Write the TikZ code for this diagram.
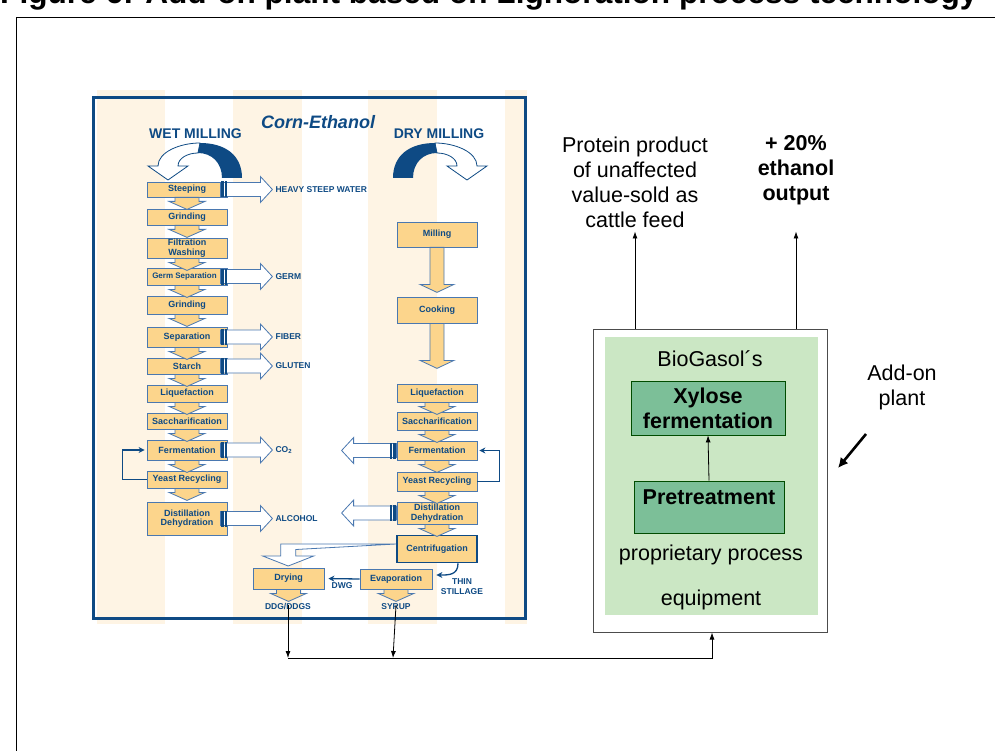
\documentclass[tikz,border=0pt]{standalone}
\usepackage{fontspec}
\setmainfont{Liberation Sans}
\usetikzlibrary{arrows.meta}

\definecolor{navy}{HTML}{0E4A84}
\definecolor{boxorange}{HTML}{FCD58C}
\definecolor{boxedge}{HTML}{4A78B0}
\definecolor{stripe}{HTML}{FEF4E4}
\definecolor{plantgreen}{HTML}{CBE7C4}
\definecolor{stepgreen}{HTML}{7CBF98}

\tikzset{
  stage/.style={draw=boxedge, fill=boxorange, line width=0.8pt, minimum width=80, minimum height=16,
    inner sep=1pt, align=center, text=navy, font=\fontsize{9}{9.5}\selectfont\bfseries},
  outlabel/.style={anchor=west, text=navy, inner sep=1pt, align=center, font=\fontsize{8.5}{9.3}\selectfont\bfseries},
  flow/.style={draw=boxedge, line width=0.8pt},
  feedback/.style={navy, line width=1.3pt, -{Stealth[length=6pt,width=6pt]}},
  plainarrow/.style={black, line width=0.8pt, -{Latex[length=7pt,width=5pt]}},
  bigtext/.style={inner sep=0pt, align=center, font=\fontsize{21.5}{25}\selectfont},
  stepbox/.style={draw=black!70!green, fill=stepgreen, line width=0.8pt, inner sep=0pt,
    minimum width=154, minimum height=54, align=center, font=\fontsize{21.5}{25}\selectfont\bfseries},
  pics/chevron/.style={code={
    \draw[flow, fill=boxorange] (-12,0) -- (12,0) -- (12,4) -- (18,4) -- (0,12) -- (-18,4) -- (-12,4) -- cycle;}},
  pics/stem/.style={code={
    \draw[flow, fill=boxorange] (-7,0) -- (7,0) -- (7,#1-8) -- (17,#1-8) -- (0,#1) -- (-17,#1-8) -- (-7,#1-8) -- cycle;}},
  pics/outflow/.style={code={
    \draw[flow, fill=white] (0,-7) -- (#1-12,-7) -- (#1-12,-13) -- (#1,0) -- (#1-12,13) -- (#1-12,7) -- (0,7) -- cycle;
    \fill[navy] (1,-8) rectangle (3.5,8);
    \fill[navy] (5,-8) rectangle (7,8);}},
  pics/uturn/.style={code={
    \draw[navy, line width=0.8pt, fill=white] (0,0) .. controls (-20,0) and (-42,9) .. (-42,23) -- (-52,23)
      -- (-32,37) -- (-12,23) -- (-22,23) .. controls (-22,15) and (-12,10) .. (-2,10) -- cycle;
    \fill[navy] (22,35) -- (42,35) .. controls (42,12) and (25,0) .. (0,0) -- (-2,10)
      .. controls (12,10) and (22,20) .. (22,35) -- cycle;}}
}

\begin{document}
\begin{tikzpicture}[x=1pt,y=-1pt]
\useasboundingbox (0,0) rectangle (995,751);

% title, cut by the page edge
\node[anchor=base west, inner sep=0pt, font=\fontsize{31.6}{36}\selectfont\bfseries] (title) at (0,4)
  {Figure 6: Add-on plant based on Lignoration process technology};
\draw[line width=1pt] (16,760) -- (16,18) -- (1000,18);

% corn-ethanol panel
\foreach \a/\b in {97/165,233/302,368/437,505/527}
  \fill[stripe] (\a,90) rectangle (\b,624);
\draw[navy, line width=3pt] (93,98) rectangle (525,618);
\node[text=navy, font=\fontsize{18}{20}\selectfont\bfseries\itshape] (corn) at (318,122) {Corn-Ethanol};
\node[text=navy, font=\fontsize{14}{16}\selectfont\bfseries] (wet) at (195.5,134) {WET MILLING};
\node[text=navy, font=\fontsize{14}{16}\selectfont\bfseries] (dry) at (439,134) {DRY MILLING};
\pic at (200,143) {uturn};
\pic[xscale=-1] at (435,143) {uturn};

% wet milling
\foreach \n/\y/\h/\t in {steep/189.5/15/Steeping, grinda/217/16/Grinding, filt/248/20/{Filtration\\Washing},
    germ/276.5/17/{\fontsize{8}{9}\selectfont Germ Separation\hspace*{5pt}}, grindb/305/18/Grinding,
    sep/337/20/Separation, starch/366/16/Starch,
    wliq/393.5/17/Liquefaction, wsac/421/16/Saccharification, wferm/450/20/Fermentation,
    wyeast/479.5/17/{Yeast Recycling}, wdist/518.5/33/{Distillation\\Dehydration}}
  \node[stage, minimum height=\h] (\n) at (187,\y) {\t};
\foreach \n in {steep,grinda,filt,germ,grindb,sep,starch,wliq,wsac,wferm,wyeast}
  \pic at (\n.south) {chevron};
\foreach \n/\t in {steep/HEAVY STEEP WATER, germ/GERM, sep/FIBER, starch/GLUTEN,
    wferm/CO\textsubscript{2}, wdist/ALCOHOL}{
  \pic at ([xshift=-7pt]\n.east) {outflow=52};
  \node[outlabel] at ([xshift=47pt]\n.east) {\t};
}
\draw[feedback] (wyeast.west) -- ++(-24,0) |- ([xshift=-2pt]wferm.west);

% dry milling
\foreach \n/\y/\h/\t in {mill/234.5/25/Milling, cook/310/26/Cooking, dliq/393/18/Liquefaction,
    dsac/421/18/Saccharification, dferm/450.5/19/Fermentation, dyeast/481.5/19/{Yeast Recycling},
    ddist/513/22/{Distillation\\Dehydration}}
  \node[stage, minimum height=\h] (\n) at (437,\y) {\t};
\node[stage, draw=navy, line width=1.6pt, minimum height=27] (centri) at (437,549) {Centrifugation};
\node[stage, minimum width=72, minimum height=20] (evap) at (396,579) {Evaporation};
\node[stage, minimum width=71, minimum height=21] (drying) at (288.5,578.5) {Drying};
\pic at (mill.south) {stem=45};
\pic at (cook.south) {stem=45};
\foreach \n in {dliq,dsac,dferm,dyeast,ddist,evap,drying}
  \pic at (\n.south) {chevron};
\foreach \n in {dferm,ddist}
  \pic[xscale=-1] at (\n.west) {outflow=55};
\draw[feedback] (dyeast.east) -- ++(22,0) |- ([xshift=2pt]dferm.east);
\draw[flow, fill=white] ([yshift=5pt]centri.west) -- ++(-115.5,0) -- ++(0,12) -- ++(-18,0) -- ++(25.5,10)
  -- ++(25.5,-10) -- ++(-18,0) -- ++(0,-6.5) -- cycle;
\draw[feedback] ([xshift=21pt]centri.south) .. controls +(0,12) and +(12,0) .. ([xshift=4pt,yshift=4pt]evap.east);
\draw[feedback, shorten >=4pt] (evap.west) -- (drying.east)
  node[midway, below=2pt, outlabel, anchor=north] {DWG};
\node[outlabel, anchor=center] (thin) at (462,586.5) {THIN\\STILLAGE};
\node[outlabel, anchor=center] (ddg) at (288,607) {DDG/DDGS};
\node[outlabel, anchor=center] (syrup) at (396,607) {SYRUP};

% add-on plant
\node[draw=black!70, line width=1pt, minimum width=234, minimum height=303, inner sep=0pt] (plant) at (710,480.5) {};
\node[fill=plantgreen, minimum width=213, minimum height=278, inner sep=0pt] (equip) at (711.5,476) {};
\node[bigtext] (biogasol) at (710,359) {BioGasol´s};
\node[stepbox] (xylose) at (708,408) {Xylose\\fermentation};
\node[stepbox, minimum width=150, minimum height=52] (pre) at (709,507) {};
\node[bigtext, font=\fontsize{21.5}{25}\selectfont\bfseries] (pretext) at ([yshift=10pt]pre.center) {Pretreatment};
\draw[plainarrow] (pre.north) -- (xylose.south);
\node[bigtext] (prop) at (711,555) {proprietary process};
\node[bigtext] (equiptext) at (711,600) {equipment};

\node[bigtext] (protein) at (635,182.5) {Protein product\\of unaffected\\value-sold as\\cattle feed};
\node[bigtext, font=\fontsize{21.5}{25}\selectfont\bfseries] (gain) at (796,170) {+ 20\%\\ethanol\\output};
\draw[plainarrow] (protein.south |- plant.north) -- ++(0,-97);
\draw[plainarrow] (gain.south |- plant.north) -- ++(0,-97);

\node[bigtext] (addon) at (902,387.5) {Add-on\\plant};
\coordinate (addonfrom) at (866,434);
\coordinate (addonto) at (838,468);
\draw[line width=2.6pt, -{Latex[length=10pt,width=10pt]}] (addonfrom) -- (addonto);

% by-products to the add-on plant
\coordinate (ddgdrop) at (288,658);
\coordinate (syrupdrop) at (393,658);
\draw[plainarrow] ([yshift=2pt]ddg.center) -- (ddgdrop);
\draw[plainarrow] ([yshift=2pt]syrup.center) -- (syrupdrop);
\draw[plainarrow] (ddgdrop) -| ([xshift=2pt]plant.south);
\end{tikzpicture}
\end{document}
